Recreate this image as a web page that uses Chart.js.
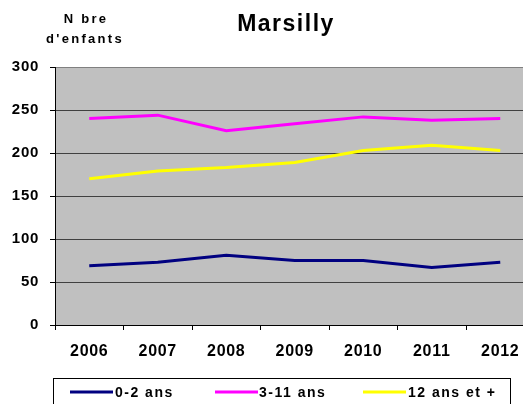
<!DOCTYPE html>
<html>
<head>
<meta charset="utf-8">
<script src="https://cdn.jsdelivr.net/npm/chart.js@4.4.1/dist/chart.umd.min.js"></script>
<style>
  html, body { margin: 0; padding: 0; background: #fff; overflow: hidden; }
  #wrap { position: relative; width: 540px; height: 404px; }
</style>
</head>
<body>
<div id="wrap"><canvas id="c" width="540" height="404"></canvas></div>
<script>
const titleText = "Marsilly";
const yTitleLines = ["N bre", "d'enfants"];
const years = ["2006", "2007", "2008", "2009", "2010", "2011", "2012"];
const seriesNames = ["0-2 ans", "3-11 ans", "12 ans et +"];
const ages0to2 = [69, 73, 81, 75, 75, 67, 73];
const ages3to11 = [240, 244, 226, 234, 242, 238, 240];
const ages12plus = [170, 179, 183, 189, 203, 209, 203];
const seriesColors = ["#000080", "#FF00FF", "#FFFF00"];
const yTicks = [0, 50, 100, 150, 200, 250, 300];

const FONT = "'Liberation Sans', Arial, sans-serif";

const bgPlugin = {
  id: 'bgPlugin',
  beforeDraw(chart) {
    const {ctx, chartArea: a} = chart;
    ctx.save();
    ctx.fillStyle = '#C0C0C0';
    ctx.fillRect(a.left, a.top, a.right - a.left, a.bottom - a.top);
    ctx.restore();
    ctx.letterSpacing = '0.7px';
  },
  afterDraw(chart) {
    const ctx = chart.ctx;
    ctx.save();
    ctx.fillStyle = '#000';
    // title
    ctx.letterSpacing = '1.5px';
    ctx.font = "bold 23px " + FONT;
    ctx.textAlign = 'center';
    ctx.textBaseline = 'alphabetic';
    ctx.fillText(titleText, 286, 31);
    // y title
    ctx.letterSpacing = '2.3px';
    ctx.font = "bold 13px " + FONT;
    ctx.fillText(yTitleLines[0], 86, 23);
    ctx.fillText(yTitleLines[1], 85, 43);
    // legend
    ctx.letterSpacing = '0px';
    ctx.fillStyle = '#fff';
    ctx.fillRect(53.5, 378.5, 457, 40);
    ctx.strokeStyle = '#000';
    ctx.lineWidth = 1;
    ctx.strokeRect(53.5, 378.5, 457, 40);
    const items = [[70, 113, 115], [215, 258, 259], [363, 406, 408]];
    chart.data.datasets.forEach((ds, i) => {
      const [x0, x1, tx] = items[i];
      ctx.strokeStyle = ds.borderColor;
      ctx.lineWidth = 3;
      ctx.beginPath();
      ctx.moveTo(x0, 392);
      ctx.lineTo(x1, 392);
      ctx.stroke();
      ctx.fillStyle = '#000';
      ctx.letterSpacing = '1.5px';
      ctx.font = "bold 14px " + FONT;
      ctx.textAlign = 'left';
      ctx.fillText(ds.label, tx, 397);
    });
    ctx.restore();
  }
};

new Chart(document.getElementById('c'), {
  type: 'line',
  data: {
    labels: years,
    datasets: [
      { label: seriesNames[0], data: ages0to2, borderColor: seriesColors[0], backgroundColor: seriesColors[0] },
      { label: seriesNames[1], data: ages3to11, borderColor: seriesColors[1], backgroundColor: seriesColors[1] },
      { label: seriesNames[2], data: ages12plus, borderColor: seriesColors[2], backgroundColor: seriesColors[2] }
    ]
  },
  options: {
    responsive: false,
    animation: false,
    devicePixelRatio: 1,
    layout: { padding: { top: 67, right: 5.5, bottom: 0, left: 0 } },
    elements: {
      line: { borderWidth: 3, tension: 0 },
      point: { radius: 0, hoverRadius: 0 }
    },
    plugins: {
      legend: { display: false },
      title: { display: false },
      tooltip: { enabled: false }
    },
    scales: {
      x: {
        type: 'category',
        offset: true,
        grid: { offset: true, drawOnChartArea: false, drawTicks: true, tickLength: 5, tickColor: '#000' },
        border: { color: '#000', width: 1 },
        ticks: { color: '#000', font: { family: FONT, size: 16, weight: 'bold' }, padding: 12, maxRotation: 0, autoSkip: false },
        afterFit(s) { s.height = 79; }
      },
      y: {
        min: 0, max: 300,
        afterBuildTicks(s) { s.ticks = yTicks.map(v => ({ value: v })); },
        grid: {
          color: (c) => (c.tick && c.tick.value === 300) ? '#808080' : '#404040',
          lineWidth: 1,
          drawTicks: true, tickLength: 5, tickColor: '#000'
        },
        border: { color: '#000', width: 1 },
        ticks: { color: '#000', font: { family: FONT, size: 15, weight: 'bold' }, padding: 11 },
        afterFit(s) { s.width = 55; }
      }
    }
  },
  plugins: [bgPlugin]
});
</script>
</body>
</html>
